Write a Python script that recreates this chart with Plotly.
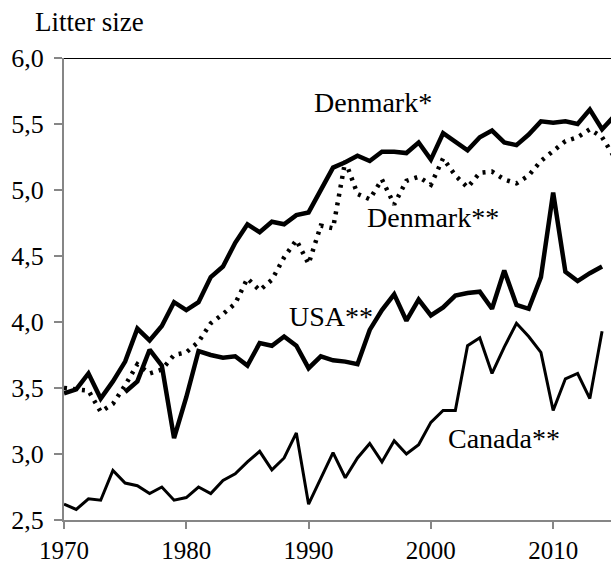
import plotly.graph_objects as go

years = list(range(1970, 2016))

denmark_star = [3.46, 3.49, 3.61, 3.42, 3.55, 3.70, 3.95, 3.86, 3.97, 4.15,
                4.09, 4.15, 4.34, 4.42, 4.60, 4.74, 4.68, 4.76, 4.74, 4.81,
                4.83, 5.00, 5.17, 5.21, 5.26, 5.22, 5.29, 5.29, 5.28, 5.36,
                5.23, 5.43, 5.36, 5.30, 5.40, 5.45, 5.36, 5.34, 5.42, 5.52,
                5.51, 5.52, 5.50, 5.61, 5.46, 5.56]

denmark_2star = [3.50, 3.49, 3.48, 3.32, 3.38, 3.52, 3.68, 3.61, 3.64, 3.75,
                 3.77, 3.85, 3.99, 4.06, 4.14, 4.33, 4.24, 4.32, 4.49, 4.62,
                 4.44, 4.73, 4.71, 5.22, 4.97, 4.93, 5.08, 4.89, 5.07, 5.10,
                 5.04, 5.24, 5.11, 5.02, 5.13, 5.14, 5.08, 5.05, 5.11, 5.22,
                 5.29, 5.37, 5.40, 5.46, 5.40, 5.25]

usa_years = list(range(1975, 2015))
usa = [3.47, 3.55, 3.79, 3.67, 3.12, 3.43, 3.78, 3.75, 3.73, 3.74,
       3.67, 3.84, 3.82, 3.89, 3.82, 3.65, 3.74, 3.71, 3.70, 3.68,
       3.94, 4.09, 4.21, 4.01, 4.17, 4.05, 4.11, 4.20, 4.22, 4.23,
       4.10, 4.39, 4.13, 4.10, 4.34, 4.98, 4.38, 4.31, 4.37, 4.42]

canada_years = list(range(1970, 2015))
canada = [2.62, 2.58, 2.66, 2.65, 2.875, 2.78, 2.76, 2.70, 2.75, 2.65,
          2.67, 2.75, 2.70, 2.80, 2.85, 2.94, 3.02, 2.88, 2.97, 3.16,
          2.62, 2.81, 3.01, 2.82, 2.97, 3.08, 2.94, 3.10, 3.00, 3.07,
          3.24, 3.33, 3.33, 3.82, 3.88, 3.61, 3.81, 3.99, 3.89, 3.77,
          3.33, 3.57, 3.61, 3.42, 3.93]

y_ticks = [2.5, 3.0, 3.5, 4.0, 4.5, 5.0, 5.5, 6.0]
x_ticks = [1970, 1980, 1990, 2000, 2010]

FONT = "Liberation Serif, Times New Roman, serif"

fig = go.Figure()
fig.add_trace(go.Scatter(x=canada_years, y=canada, mode="lines",
                         line=dict(color="black", width=3), name="Canada**"))
fig.add_trace(go.Scatter(x=usa_years, y=usa, mode="lines",
                         line=dict(color="black", width=4.5), name="USA**"))
fig.add_trace(go.Scatter(x=years, y=denmark_2star, mode="lines",
                         line=dict(color="black", width=4.5, dash="3px,6px"), name="Denmark**"))
fig.add_trace(go.Scatter(x=years, y=denmark_star, mode="lines",
                         line=dict(color="black", width=4.5), name="Denmark*"))

labels = [("Denmark*", 1995.24, 5.66), ("Denmark**", 2000.2, 4.79),
          ("USA**", 1991.83, 4.04), ("Canada**", 2006.02, 3.12)]
for txt, lx, ly in labels:
    fig.add_annotation(x=lx, y=ly, text=txt, showarrow=False,
                       xanchor="center", yanchor="middle",
                       font=dict(family=FONT, size=28, color="black"))

fig.add_annotation(x=0.047, y=1.078, xref="paper", yref="paper", text="Litter size",
                   showarrow=False, xanchor="center", yanchor="middle",
                   font=dict(family=FONT, size=27, color="black"))

fig.add_shape(type="line", xref="paper", yref="y", x0=0, x1=1, y0=6.0, y1=6.0,
              line=dict(color="black", width=2))

fig.update_layout(
    width=611, height=565,
    margin=dict(l=64, r=0, t=58, b=45),
    paper_bgcolor="white", plot_bgcolor="white",
    showlegend=False,
    separators=", ",
    font=dict(family=FONT, size=25, color="black"),
    xaxis=dict(range=[1970, 2014.73], tickvals=x_ticks, showgrid=False, zeroline=False,
               showline=True, linecolor="#868686", linewidth=2,
               ticks="outside", ticklen=7, tickcolor="#868686", tickwidth=1.5,
               tickfont=dict(family=FONT, size=25, color="black")),
    yaxis=dict(range=[2.5, 6.0], tickvals=y_ticks, tickformat=".1f", showgrid=False,
               zeroline=False, showline=True, linecolor="#868686", linewidth=2,
               ticks="outside", ticklen=8, tickcolor="#868686", tickwidth=1.5,
               ticklabelstandoff=5,
               tickfont=dict(family=FONT, size=26, color="black")),
)

fig.write_html("out.html", config={"displayModeBar": False},
               post_script="document.body.style.margin='0';document.body.style.overflow='hidden';")
